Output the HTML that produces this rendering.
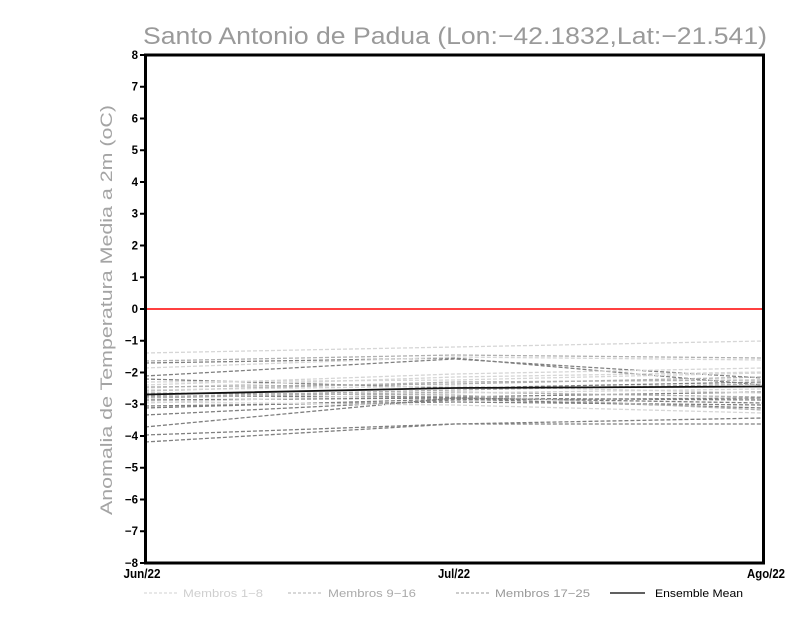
<!DOCTYPE html>
<html><head><meta charset="utf-8"><style>
html,body{margin:0;padding:0;background:#fff;}
svg{display:block;}
</style></head><body>
<svg width="800" height="618" viewBox="0 0 800 618" xmlns="http://www.w3.org/2000/svg">
<rect width="800" height="618" fill="#fff"/>
<text x="455" y="44" text-anchor="middle" font-family="Liberation Sans, sans-serif" font-size="24" fill="#9a9a9a" textLength="624" lengthAdjust="spacingAndGlyphs">Santo Antonio de Padua (Lon:−42.1832,Lat:−21.541)</text>
<text transform="translate(112,310) rotate(-90)" text-anchor="middle" font-family="Liberation Sans, sans-serif" font-size="17" fill="#a4a4a4" textLength="410" lengthAdjust="spacingAndGlyphs">Anomalia de Temperatura Media a 2m (oC)</text>
<g fill="none" stroke-width="1.3" stroke-dasharray="4 2">
<polyline stroke="#d6d6d6" points="145,353 454,347 763,341"/>
<polyline stroke="#b0b0b0" points="145,361 454,355 763,358"/>
<polyline stroke="#808080" points="145,363 454,358 763,385"/>
<polyline stroke="#d6d6d6" points="145,368 454,357 763,360"/>
<polyline stroke="#808080" points="145,376 454,359 763,378"/>
<polyline stroke="#808080" points="145,379 454,388 763,382"/>
<polyline stroke="#d6d6d6" points="145,385 454,374 763,368"/>
<polyline stroke="#d6d6d6" points="145,388 454,377 763,372"/>
<polyline stroke="#b0b0b0" points="145,391 454,382 763,380"/>
<polyline stroke="#808080" points="145,396 454,397 763,392"/>
<polyline stroke="#b0b0b0" points="145,398 454,392 763,397"/>
<polyline stroke="#808080" points="145,400 454,398 763,400"/>
<polyline stroke="#d6d6d6" points="145,403 454,393 763,389"/>
<polyline stroke="#808080" points="145,406 454,402 763,405"/>
<polyline stroke="#808080" points="145,408 454,399 763,408"/>
<polyline stroke="#808080" points="145,415 454,400 763,398"/>
<polyline stroke="#808080" points="145,427 454,398 763,403"/>
<polyline stroke="#808080" points="145,435 454,424 763,424"/>
<polyline stroke="#808080" points="145,442 454,424 763,418"/>
<polyline stroke="#d6d6d6" points="145,382 454,380 763,373"/>
<polyline stroke="#d6d6d6" points="145,390 454,386 763,393"/>
<polyline stroke="#b0b0b0" points="145,393 454,395 763,410"/>
<polyline stroke="#d6d6d6" points="145,402 454,405 763,413"/>
<polyline stroke="#b0b0b0" points="145,397 454,390 763,384"/>
<polyline stroke="#b0b0b0" points="145,387 454,384 763,377"/>
</g>
<polyline fill="none" stroke="#111" stroke-width="1.8" points="145,394.5 454,388 763,386.5"/>
<line x1="145" y1="309" x2="763" y2="309" stroke="#f00" stroke-width="1.6"/>
<rect x="145.5" y="55" width="618" height="508" fill="none" stroke="#000" stroke-width="3"/>
<g stroke="#000" stroke-width="2">
<line x1="140" y1="55" x2="145" y2="55"/><line x1="140" y1="86.75" x2="145" y2="86.75"/><line x1="140" y1="118.5" x2="145" y2="118.5"/><line x1="140" y1="150.25" x2="145" y2="150.25"/><line x1="140" y1="182" x2="145" y2="182"/><line x1="140" y1="213.75" x2="145" y2="213.75"/><line x1="140" y1="245.5" x2="145" y2="245.5"/><line x1="140" y1="277.25" x2="145" y2="277.25"/><line x1="140" y1="309" x2="145" y2="309"/><line x1="140" y1="340.75" x2="145" y2="340.75"/><line x1="140" y1="372.5" x2="145" y2="372.5"/><line x1="140" y1="404.25" x2="145" y2="404.25"/><line x1="140" y1="436" x2="145" y2="436"/><line x1="140" y1="467.75" x2="145" y2="467.75"/><line x1="140" y1="499.5" x2="145" y2="499.5"/><line x1="140" y1="531.25" x2="145" y2="531.25"/><line x1="140" y1="563" x2="145" y2="563"/>
</g>
<g font-family="Liberation Sans Narrow, Liberation Sans, sans-serif" font-weight="bold" font-size="11.5" fill="#000" text-anchor="end">
<text x="138" y="59">8</text><text x="138" y="90.5">7</text><text x="138" y="122.5">6</text><text x="138" y="154">5</text><text x="138" y="186">4</text><text x="138" y="217.5">3</text><text x="138" y="249.5">2</text><text x="138" y="281">1</text><text x="138" y="313">0</text><text x="138" y="344.5">−1</text><text x="138" y="376.5">−2</text><text x="138" y="408">−3</text><text x="138" y="440">−4</text><text x="138" y="471.5">−5</text><text x="138" y="503.5">−6</text><text x="138" y="535">−7</text><text x="138" y="567">−8</text>
</g>
<g font-family="Liberation Sans Narrow, Liberation Sans, sans-serif" font-weight="bold" font-size="13" fill="#000" text-anchor="middle">
<text x="142" y="578" textLength="37" lengthAdjust="spacingAndGlyphs">Jun/22</text>
<text x="454" y="578" textLength="32" lengthAdjust="spacingAndGlyphs">Jul/22</text>
<text x="766" y="578" textLength="38" lengthAdjust="spacingAndGlyphs">Ago/22</text>
</g>
<g stroke-width="1" stroke-dasharray="3 2" fill="none">
<line x1="144" y1="593" x2="179" y2="593" stroke="#d0d0d0"/>
<line x1="288" y1="593" x2="321" y2="593" stroke="#b0b0b0"/>
<line x1="456" y1="593" x2="489" y2="593" stroke="#999"/>
</g>
<line x1="610" y1="593" x2="645" y2="593" stroke="#000" stroke-width="1.2"/>
<g font-family="Liberation Sans, sans-serif" font-size="11">
<text x="183" y="597" fill="#cfcfcf" textLength="80" lengthAdjust="spacingAndGlyphs">Membros 1−8</text>
<text x="328" y="597" fill="#aaaaaa" textLength="88" lengthAdjust="spacingAndGlyphs">Membros 9−16</text>
<text x="495" y="597" fill="#999999" textLength="95" lengthAdjust="spacingAndGlyphs">Membros 17−25</text>
<text x="655" y="597" fill="#000" textLength="88" lengthAdjust="spacingAndGlyphs">Ensemble Mean</text>
</g>
</svg>
</body></html>
